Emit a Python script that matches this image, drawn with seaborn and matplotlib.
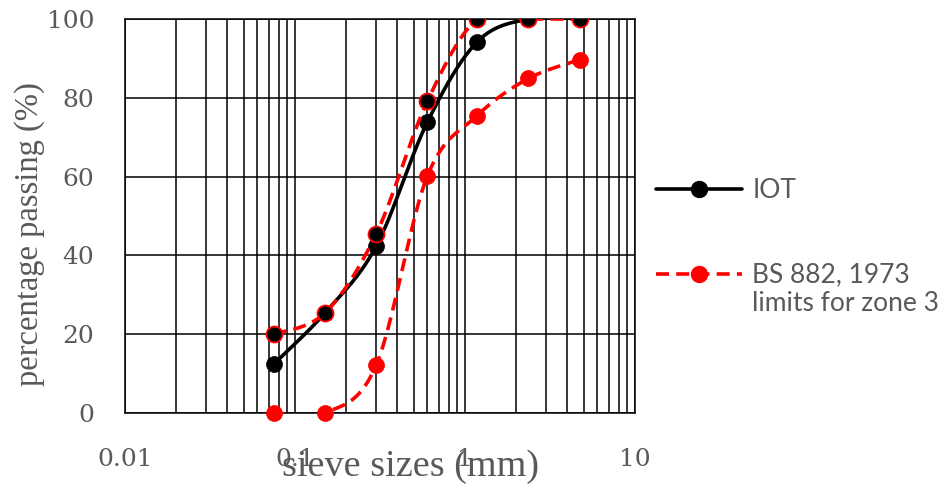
import numpy as np
import pandas as pd
import matplotlib
matplotlib.use("Agg")
import matplotlib.pyplot as plt
from matplotlib.lines import Line2D
from matplotlib.legend_handler import HandlerLine2D
from matplotlib.ticker import NullFormatter, LogLocator
import seaborn as sns

# ---------------- data ----------------
sieve_mm = [0.075, 0.15, 0.3, 0.6, 1.18, 2.36, 4.75]
iot_passing = [12.4, 25.4, 42.3, 73.8, 94.2, 100, 100]
bs_upper = [20, 25.4, 45.4, 79.1, 100, 100, 100]
bs_lower = [0, 0, 12.1, 60.1, 75.5, 84.9, 89.7]
x_tick_values = [0.01, 0.1, 1, 10]
x_tick_labels = ["0.01", "0.1", "1", "10"]
y_tick_values = [0, 20, 40, 60, 80, 100]
series_labels = ["IOT", "BS 882, 1973\nlimits for zone 3"]

sns.set_style("white")
plt.rcParams["font.family"] = ["DejaVu Serif"]

W, H = 946, 484
fig = plt.figure(figsize=(W / 100, H / 100), dpi=100)
L, R, T, B = 125, 635, 19, 413
ax = fig.add_axes([L / W, 1 - B / H, (R - L) / W, (B - T) / H])

PX_DEC = (R - L) / 3.0
PX_UNIT = (B - T) / 100.0


def smooth(xs, ys, n=40):
    """Excel-style smoothed line (Bezier through the points, in screen space)."""
    pts = np.column_stack([np.log10(xs) * PX_DEC, np.asarray(ys, float) * PX_UNIT])
    out = []
    for i in range(len(pts) - 1):
        p0 = pts[i - 1] if i > 0 else pts[i]
        p1, p2 = pts[i], pts[i + 1]
        p3 = pts[i + 2] if i + 2 < len(pts) else pts[i + 1]
        c1 = p1 + (p2 - p0) / 6.0
        c2 = p2 - (p3 - p1) / 6.0
        t = np.linspace(0, 1, n)[:, None]
        seg = (1 - t) ** 3 * p1 + 3 * (1 - t) ** 2 * t * c1 + 3 * (1 - t) * t ** 2 * c2 + t ** 3 * p2
        out.append(seg if i == 0 else seg[1:])
    s = np.vstack(out)
    return 10 ** (s[:, 0] / PX_DEC), s[:, 1] / PX_UNIT


LW = 2.6
MS = 11.5
DASH = (3.6, 2.0)

# IOT
sx, sy = smooth(sieve_mm, iot_passing)
sns.lineplot(x=sx, y=sy, sort=False, estimator=None, color="black", lw=LW, ax=ax, zorder=3)
sns.scatterplot(x=sieve_mm, y=iot_passing, color="black", s=MS ** 2, edgecolor="black",
                linewidth=0.5, ax=ax, zorder=4)

# BS upper
sx, sy = smooth(sieve_mm, bs_upper)
sns.lineplot(x=sx, y=sy, sort=False, estimator=None, color="red", lw=LW, ax=ax, zorder=5)
ax.lines[-1].set_dashes(DASH)
sns.scatterplot(x=sieve_mm, y=bs_upper, color="black", s=MS ** 2, edgecolor="red",
                linewidth=1.3, ax=ax, zorder=6)

# BS lower
sx, sy = smooth(sieve_mm, bs_lower)
sns.lineplot(x=sx, y=sy, sort=False, estimator=None, color="red", lw=LW, ax=ax, zorder=5)
ax.lines[-1].set_dashes(DASH)
sns.scatterplot(x=sieve_mm, y=bs_lower, color="red", s=MS ** 2, edgecolor="red",
                linewidth=0.5, ax=ax, zorder=6, clip_on=False)

tick_col = "#595959"

ax.set_xscale("log")
ax.set_xlim(0.01, 10)
ax.set_ylim(0, 100)
ax.set_xticks(x_tick_values)
ax.set_xticklabels(x_tick_labels)
ax.xaxis.set_minor_locator(LogLocator(base=10, subs=np.arange(2, 10)))
ax.xaxis.set_minor_formatter(NullFormatter())
ax.set_yticks(y_tick_values)
ax.set_yticklabels([str(v) for v in y_tick_values])

ax.set_axisbelow(True)
ax.grid(which="both", axis="x", color="black", lw=1.1)
ax.grid(which="major", axis="y", color="black", lw=1.1)
for sp in ax.spines.values():
    sp.set_visible(True)
    sp.set_color("black")
    sp.set_linewidth(1.1)

ax.tick_params(axis="x", which="major", direction="out", length=7, width=1.1, color="black",
               pad=18, labelsize=18, labelcolor=tick_col)
ax.tick_params(axis="x", which="minor", length=0)
ax.tick_params(axis="y", which="major", direction="inout", length=14, width=1.1, color="black",
               pad=15, labelsize=18, labelcolor=tick_col)

ax.set_xlabel("sieve sizes (mm)", fontsize=27.5, color=tick_col, family=["Liberation Serif"])
ax.xaxis.set_label_coords(0.56, -0.092)
ax.set_ylabel("percentage passing (%)", fontsize=23.5, color=tick_col, family=["Liberation Serif"])
ax.yaxis.set_label_coords(-0.157, 0.455)


class ShiftedHandler(HandlerLine2D):
    """Line+marker handle raised so it sits on the first line of a two-line label."""

    def __init__(self, dy_frac=0.0, **kw):
        super().__init__(**kw)
        self.dy_frac = dy_frac

    def create_artists(self, legend, orig_handle, xdescent, ydescent, width, height,
                       fontsize, trans):
        arts = super().create_artists(legend, orig_handle, xdescent, ydescent, width,
                                      height, fontsize, trans)
        for a in arts:
            a.set_ydata(np.asarray(a.get_ydata(), float) + self.dy_frac * fontsize)
        return arts


handles = [
    Line2D([], [], color="black", lw=LW, marker="o", ms=MS, mfc="black", mec="black"),
    Line2D([], [], color="red", lw=LW, dashes=DASH, marker="o", ms=MS, mfc="red", mec="red"),
]
leg = fig.legend(handles, series_labels, loc="upper left",
                 bbox_to_anchor=(656 / W, 1 - 178 / H), frameon=False,
                 borderpad=0, borderaxespad=0, handlelength=3.25, handletextpad=0.4,
                 labelspacing=2.25, prop={"family": ["Lato", "DejaVu Sans"], "size": 19},
                 handler_map={handles[1]: ShiftedHandler(dy_frac=0.6)})
for t in leg.get_texts():
    t.set_color(tick_col)

fig.savefig("out.png", dpi=100)
